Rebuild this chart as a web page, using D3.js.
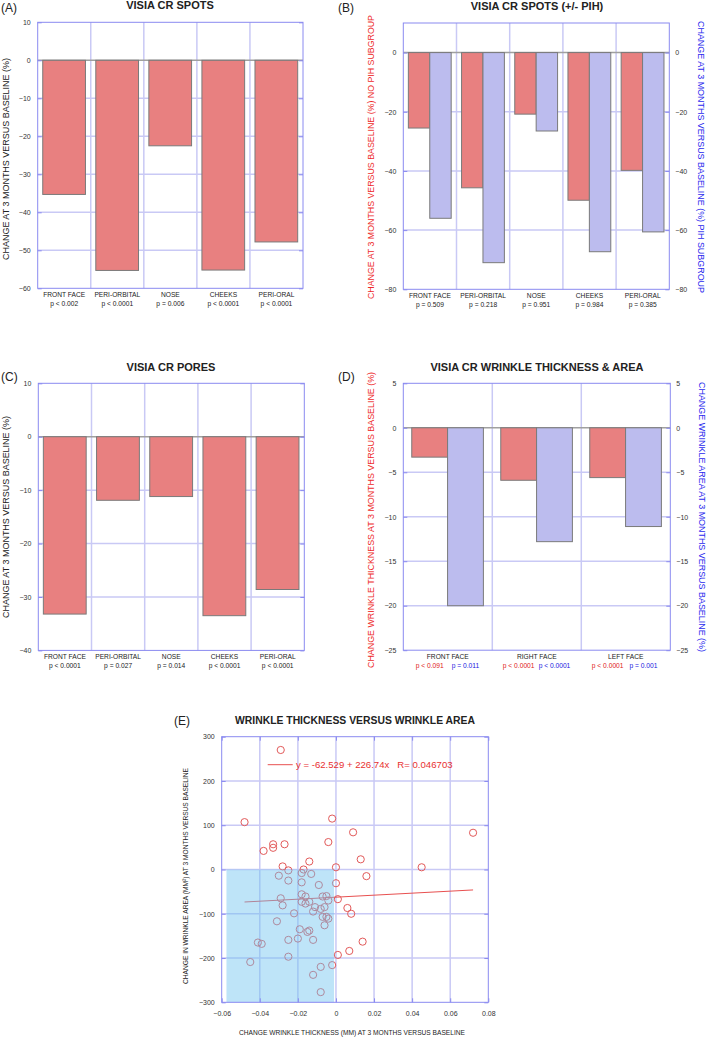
<!DOCTYPE html>
<html><head><meta charset="utf-8">
<script src="https://cdn.jsdelivr.net/npm/d3@7"></script>
<style>body{margin:0;background:#fff}svg{display:block;font-family:"Liberation Sans",Arial,sans-serif}</style>
</head><body><svg id="c" width="709" height="1037"></svg>
<script>
// ---------- DATA ----------
const spotsCats = ["FRONT FACE","PERI-ORBITAL","NOSE","CHEEKS","PERI-ORAL"];
const spotsValues = [-35.3,-55.3,-22.5,-55.2,-47.8];
const spotsP = ["p < 0.002","p < 0.0001","p = 0.006","p < 0.0001","p < 0.0001"];
const spotsTicks = [10,0,-10,-20,-30,-40,-50,-60];

const pihNoValues = [-25.5,-45.7,-20.8,-49.9,-39.8];
const pihValues = [-56.0,-71.0,-26.5,-67.3,-60.6];
const pihP = ["p = 0.509","p = 0.218","p = 0.951","p = 0.984","p = 0.385"];
const pihTicks = [0,-20,-40,-60,-80];

const poresValues = [-33.2,-11.9,-11.2,-33.5,-28.6];
const poresP = ["p < 0.0001","p = 0.027","p = 0.014","p < 0.0001","p < 0.0001"];
const poresTicks = [10,0,-10,-20,-30,-40];

const wrinkleCats = ["FRONT FACE","RIGHT FACE","LEFT FACE"];
const thicknessValues = [-3.3,-5.9,-5.6];
const areaValues = [-20.0,-12.8,-11.1];
const thicknessP = ["p < 0.091","p < 0.0001","p < 0.0001"];
const areaP = ["p = 0.011","p < 0.0001","p = 0.001"];
const wrinkleTicks = [5,0,-5,-10,-15,-20,-25];

const scatterX = [-0.048,-0.002,0.009,0.072,-0.033,-0.033,-0.038,-0.027,-0.004,-0.014,0.013,-0.028,-0.025,-0.017,0.000,0.045,
  -0.030,-0.018,-0.013,-0.025,-0.018,-0.009,0.000,0.016,-0.018,-0.016,-0.029,-0.007,-0.005,-0.004,0.001,-0.018,-0.016,-0.014,
  -0.028,-0.011,-0.008,-0.006,0.006,-0.022,-0.012,0.008,-0.007,-0.005,-0.004,-0.006,-0.031,-0.019,-0.015,-0.014,-0.020,-0.025,
  -0.012,0.014,-0.041,-0.039,0.007,-0.025,0.001,-0.045,-0.002,-0.008,-0.012,-0.008,-0.029];
const scatterY = [107,115,84,83,57,49,42,57,62,18,23,7,-2,0,5,5,
  -14,-8,-10,-25,-29,-35,-31,-15,-56,-61,-65,-61,-60,-70,-67,-73,-77,-73,
  -81,-85,-89,-85,-87,-99,-95,-100,-107,-107,-111,-126,-117,-135,-141,-138,-156,-159,
  -159,-163,-165,-168,-184,-197,-193,-209,-216,-220,-238,-277,270];
const scatterXTicks = [-0.06,-0.04,-0.02,0,0.02,0.04,0.06,0.08];
const scatterYTicks = [300,200,100,0,-100,-200,-300];
const regIntercept = -62.529, regSlope = 226.74;
const regRange = [-0.048, 0.072];
const shadedX = [-0.0575, -0.001], shadedY = [-300, 0];

// ---------- STYLE ----------
const RED = "#e88080", BLUE = "#bcbcee", GRID = "#c9c9f5", FRAME = "#8a8af0";
const svg = d3.select("#c");

function measure(s, size) {
  const t = svg.append("text").attr("font-size", size).text(s);
  const w = t.node().getComputedTextLength(); t.remove(); return w;
}
const CAT_SIZE = 7.8, P_SIZE = 7.4;
const catK = 42 / measure("FRONT FACE", CAT_SIZE);
const pK = 31.7 / measure("p < 0.0001", P_SIZE);

function txt(g, x, y, s, o = {}) {
  const t = g.append("text").attr("x", x).attr("y", y).text(s)
    .attr("font-size", o.size || 8).attr("fill", o.fill || "#222")
    .attr("text-anchor", o.anchor || "middle");
  if (o.bold) t.attr("font-weight", "bold");
  if (o.len) t.attr("textLength", o.len).attr("lengthAdjust", "spacingAndGlyphs");
  if (o.rot) t.attr("transform", `rotate(${o.rot},${x},${y})`);
  return t;
}

function barPanel(o) {
  const g = svg.append("g");
  const x = d3.scaleBand().domain(o.cats).range([o.x0, o.x1]);
  const y = d3.scaleLinear().domain(o.domain).range([o.y1, o.y0]);
  const bw = x.bandwidth();
  const inner = d3.scaleBand().domain(d3.range(o.series.length)).range([bw * 0.095, bw * 0.9]);
  const lo = o.domain[0], hi = o.domain[1];
  g.selectAll(".hg").data(o.ticks.filter(t => t !== 0 && t !== lo && t !== hi)).join("line")
    .attr("x1", o.x0).attr("x2", o.x1).attr("y1", d => y(d)).attr("y2", d => y(d))
    .attr("stroke", GRID).attr("stroke-width", 1.5);
  g.selectAll(".vg").data(o.cats.slice(1)).join("line")
    .attr("x1", d => x(d)).attr("x2", d => x(d)).attr("y1", o.y0).attr("y2", o.y1)
    .attr("stroke", GRID).attr("stroke-width", 1.5);
  g.append("line").attr("x1", o.x0).attr("x2", o.x1).attr("y1", y(0)).attr("y2", y(0))
    .attr("stroke", "#a0a0a0").attr("stroke-width", 1.5);
  o.series.forEach((s, i) => {
    g.selectAll(null).data(s.values).join("rect")
      .attr("x", (d, j) => x(o.cats[j]) + inner(i))
      .attr("width", inner.bandwidth())
      .attr("y", d => y(Math.max(0, d)))
      .attr("height", d => Math.abs(y(d) - y(0)))
      .attr("fill", s.color).attr("stroke", "#7a7a7a").attr("stroke-width", 1);
  });
  g.append("rect").attr("x", o.x0).attr("y", o.y0).attr("width", o.x1 - o.x0).attr("height", o.y1 - o.y0)
    .attr("fill", "none").attr("stroke", FRAME).attr("stroke-width", 1);
  const ax = g.append("g").attr("transform", `translate(${o.x0},0)`)
    .call(d3.axisLeft(y).tickValues(o.ticks).tickSize(-4).tickPadding(7).tickFormat(d3.format("d")));
  const axR = g.append("g").attr("transform", `translate(${o.x1},0)`)
    .call(d3.axisRight(y).tickValues(o.ticks).tickSize(-4).tickPadding(6).tickFormat(d3.format("d")));
  if (!o.rightLabels) axR.selectAll("text").remove();
  [ax, axR].forEach(a => {
    a.select(".domain").remove();
    a.selectAll("line").attr("stroke", FRAME);
    a.selectAll("text").attr("font-size", 7).attr("fill", "#333").attr("font-family", "Liberation Sans, Arial, sans-serif");
  });
  o.cats.forEach((c, j) => {
    txt(g, x(c) + bw / 2, o.y1 + 9, c, { size: CAT_SIZE, len: measure(c, CAT_SIZE) * catK });
    o.series.forEach((s, i) => {
      if (!s.p) return;
      const cx = o.series.length > 1 && o.pPerBar ? x(c) + inner(i) + inner.bandwidth() / 2 : x(c) + bw / 2;
      txt(g, cx, o.y1 + 17.5, s.p[j], { size: P_SIZE, fill: s.pColor || "#222", len: measure(s.p[j], P_SIZE) * pK });
    });
  });
  txt(g, o.titleX, o.titleY, o.title, { size: 11, bold: true });
  txt(g, o.letterX, o.letterY, o.letter, { size: 12, anchor: "start" });
  txt(g, o.ylab.x, o.ylab.y, o.ylab.text, { size: o.ylab.size, fill: o.ylab.fill, rot: -90, len: o.ylab.len });
  if (o.ylabR) txt(g, o.ylabR.x, o.ylabR.y, o.ylabR.text, { size: o.ylabR.size, fill: o.ylabR.fill, rot: 90, len: o.ylabR.len });
}

// Panel A
barPanel({
  cats: spotsCats, x0: 37.7, x1: 303, y0: 22.3, y1: 288.3, domain: [-60, 10], ticks: spotsTicks,
  series: [{ values: spotsValues, color: RED, p: spotsP }],
  title: "VISIA CR SPOTS", titleX: 170, titleY: 9, letter: "(A)", letterX: 1, letterY: 12,
  ylab: { x: 9, y: 159, text: "CHANGE AT 3 MONTHS VERSUS BASELINE (%)", size: 9.5, len: 202 }
});
// Panel B
barPanel({
  cats: spotsCats, x0: 403.3, x1: 669.3, y0: 23, y1: 289.3, domain: [-80, 10], ticks: pihTicks, rightLabels: true,
  series: [{ values: pihNoValues, color: RED, p: pihP }, { values: pihValues, color: BLUE }],
  title: "VISIA CR SPOTS (+/- PIH)", titleX: 537, titleY: 10, letter: "(B)", letterX: 338, letterY: 12,
  ylab: { x: 374, y: 157, text: "CHANGE AT 3 MONTHS VERSUS BASELINE (%) NO PIH SUBGROUP", size: 9, fill: "#ee2a2a", len: 284 },
  ylabR: { x: 698, y: 157, text: "CHANGE AT 3 MONTHS VERSUS BASELINE (%) PIH SUBGROUP", size: 9, fill: "#2a2aee", len: 272 }
});
// Panel C
barPanel({
  cats: spotsCats, x0: 38.3, x1: 304.3, y0: 383.3, y1: 650.4, domain: [-40, 10], ticks: poresTicks,
  series: [{ values: poresValues, color: RED, p: poresP }],
  title: "VISIA CR PORES", titleX: 171, titleY: 371, letter: "(C)", letterX: 1, letterY: 381,
  ylab: { x: 8.5, y: 517, text: "CHANGE AT 3 MONTHS VERSUS BASELINE (%)", size: 9.5, len: 202 }
});
// Panel D
barPanel({
  cats: wrinkleCats, x0: 403.3, x1: 670.3, y0: 383.3, y1: 650.2, domain: [-25, 5], ticks: wrinkleTicks, rightLabels: true,
  pPerBar: true,
  series: [{ values: thicknessValues, color: RED, p: thicknessP, pColor: "#e02020" },
           { values: areaValues, color: BLUE, p: areaP, pColor: "#2020e0" }],
  title: "VISIA CR WRINKLE THICKNESS & AREA", titleX: 537, titleY: 371, letter: "(D)", letterX: 338, letterY: 381,
  ylab: { x: 374, y: 520, text: "CHANGE WRINKLE THICKNESS AT 3 MONTHS VERSUS BASELINE (%)", size: 9, fill: "#ee2a2a", len: 296 },
  ylabR: { x: 699, y: 517, text: "CHANGE WRINKLE AREA AT 3 MONTHS VERSUS BASELINE (%)", size: 9, fill: "#2a2aee", len: 270 }
});

// Panel E scatter
(function () {
  const g = svg.append("g");
  const x0 = 221.7, x1 = 488.3, y0 = 736.7, y1 = 1002.3;
  const x = d3.scaleLinear().domain([-0.06, 0.08]).range([x0, x1]);
  const y = d3.scaleLinear().domain([-300, 300]).range([y1, y0]);
  g.selectAll(".vg").data(scatterXTicks.slice(1, -1)).join("line")
    .attr("x1", d => x(d)).attr("x2", d => x(d)).attr("y1", y0).attr("y2", y1)
    .attr("stroke", GRID).attr("stroke-width", 1.5);
  g.selectAll(".hg").data(scatterYTicks.slice(1, -1)).join("line")
    .attr("y1", d => y(d)).attr("y2", d => y(d)).attr("x1", x0).attr("x2", x1)
    .attr("stroke", GRID).attr("stroke-width", 1.5);
  g.append("line").attr("x1", x(regRange[0])).attr("x2", x(regRange[1]))
    .attr("y1", y(regIntercept + regSlope * regRange[0])).attr("y2", y(regIntercept + regSlope * regRange[1]))
    .attr("stroke", "#e85050").attr("stroke-width", 1);
  g.selectAll("circle").data(scatterX).join("circle")
    .attr("cx", d => x(d)).attr("cy", (d, i) => y(scatterY[i])).attr("r", 3.6)
    .attr("fill", "none").attr("stroke", "#e25a5a").attr("stroke-width", 1);
  g.append("rect").attr("x", x(shadedX[0])).attr("width", x(shadedX[1]) - x(shadedX[0]))
    .attr("y", y(shadedY[1])).attr("height", y(shadedY[0]) - y(shadedY[1]))
    .attr("fill", "#6fc3ef").attr("fill-opacity", 0.45);
  g.append("rect").attr("x", x0).attr("y", y0).attr("width", x1 - x0).attr("height", y1 - y0)
    .attr("fill", "none").attr("stroke", FRAME).attr("stroke-width", 1);
  const axL = g.append("g").attr("transform", `translate(${x0},0)`)
    .call(d3.axisLeft(y).tickValues(scatterYTicks).tickSize(-4).tickPadding(7).tickFormat(d3.format("d")));
  const axR = g.append("g").attr("transform", `translate(${x1},0)`)
    .call(d3.axisRight(y).tickValues(scatterYTicks).tickSize(-4).tickFormat(""));
  const axB = g.append("g").attr("transform", `translate(0,${y1})`)
    .call(d3.axisBottom(x).tickValues(scatterXTicks).tickSize(-4).tickPadding(9).tickFormat(d => d === 0 ? "0" : d3.format(".2f")(d)));
  const axT = g.append("g").attr("transform", `translate(0,${y0})`)
    .call(d3.axisTop(x).tickValues(scatterXTicks).tickSize(-4).tickFormat(""));
  [axL, axR, axB, axT].forEach(a => {
    a.select(".domain").remove();
    a.selectAll("line").attr("stroke", FRAME);
    a.selectAll("text").attr("font-size", 7).attr("fill", "#333").attr("font-family", "Liberation Sans, Arial, sans-serif");
  });
  g.append("line").attr("x1", 267.7).attr("x2", 292.7).attr("y1", 764.7).attr("y2", 764.7)
    .attr("stroke", "#e85050").attr("stroke-width", 1);
  txt(g, 296, 768.3, `y = ${regIntercept} + ${regSlope}x   R= 0.046703`, { size: 9.6, fill: "#e83030", anchor: "start" })
    .attr("xml:space", "preserve").style("white-space", "pre");
  txt(g, 355, 723.5, "WRINKLE THICKNESS VERSUS WRINKLE AREA", { size: 10.8, bold: true, len: 240 });
  txt(g, 174, 724.5, "(E)", { size: 12, anchor: "start" });
  txt(g, 188, 876, "CHANGE IN WRINKLE AREA (MM²) AT 3 MONTHS VERSUS BASELINE", { size: 7.2, rot: -90, len: 216 });
  txt(g, 352, 1034.5, "CHANGE WRINKLE THICKNESS (MM) AT 3 MONTHS VERSUS BASELINE", { size: 7.4, len: 226 });
})();
</script></body></html>
